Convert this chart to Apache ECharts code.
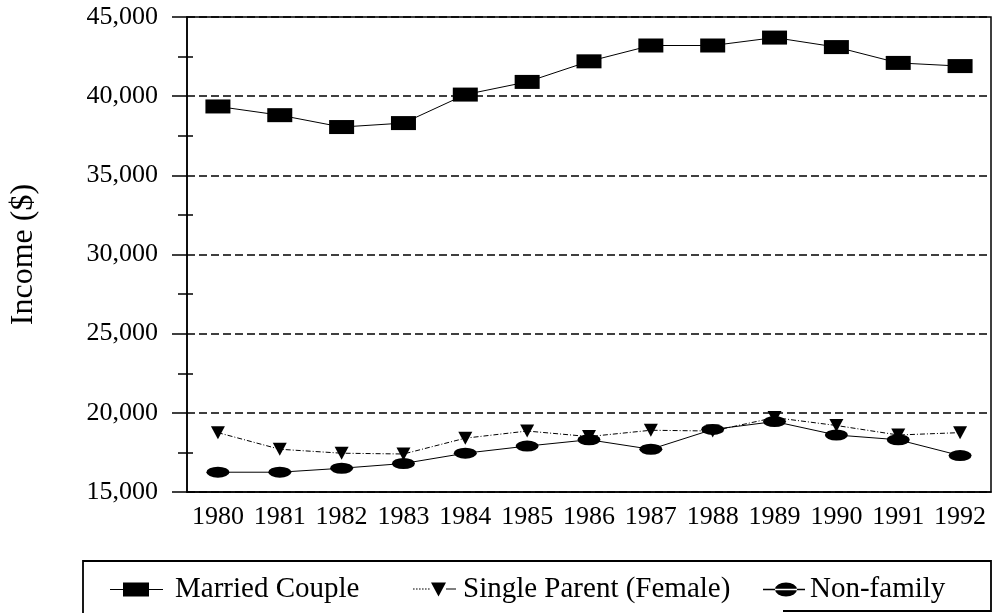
<!DOCTYPE html>
<html><head><meta charset="utf-8">
<script src="https://cdn.jsdelivr.net/npm/echarts@6/dist/echarts.min.js"></script>
<style>html,body{margin:0;padding:0;background:#fff}#c{width:996px;height:613px}</style>
</head><body><div id="c"></div>
<script>
const years = ['1980','1981','1982','1983','1984','1985','1986','1987','1988','1989','1990','1991','1992'];
const marriedCouple = [39350, 38800, 38050, 38300, 40100, 40900, 42200, 43200, 43200, 43700, 43100, 42100, 41900];
const singleParent = [18750, 17700, 17450, 17400, 18400, 18850, 18500, 18900, 18850, 19700, 19200, 18600, 18750];
const nonFamily = [16250, 16250, 16500, 16800, 17450, 17900, 18300, 17700, 18950, 19450, 18600, 18300, 17300];
const yTicks = {min: 15000, max: 45000, interval: 5000};

const FONT = 'Liberation Serif';
const ellipse = 'path://M0,5 A11,5 0 1,0 22,5 A11,5 0 1,0 0,5 Z';
// legend icons (line + marker), drawn as filled paths sized to the legend item box
const iconMarried = 'path://M0,6.5 H13 V0 H39 V6.5 H53 V7.5 H39 V14 H13 V7.5 H0 Z';
const iconSingle = 'path://M0,6.6 h1.6 v1 h-1.6 Z M3,6.6 h1.6 v1 h-1.6 Z M6,6.6 h1.6 v1 h-1.6 Z M9,6.6 h1.6 v1 h-1.6 Z M12,6.6 h1.6 v1 h-1.6 Z M15,6.6 h1.6 v1 h-1.6 Z M18,1 H33 L25.5,14 Z M33,6.6 H43 V7.6 H33 Z';
const iconNon = 'path://M0,6.5 H42 V7.5 H0 Z M12,7 A11,5 0 1,0 34,7 A11,5 0 1,0 12,7 Z';

const chart = echarts.init(document.getElementById('c'), null, {renderer: 'canvas'});
const legendText = {fontFamily: FONT, fontSize: 29, color: '#000'};
function legendAt(left, width, pad, name, icon) {
  return {
    left: left, top: 575, itemWidth: width, itemHeight: 14, itemGap: 0, padding: 0,
    selectedMode: false, symbolKeepAspect: false,
    textStyle: Object.assign({}, legendText, {padding: [0, 0, 0, pad]}),
    data: [{name: name, icon: icon, itemStyle: {color: '#000', borderWidth: 0}}]
  };
}
chart.setOption({
  animation: false,
  backgroundColor: '#fff',
  grid: {left: 185, right: 5, top: 17, bottom: 121, show: true, borderColor: '#000', borderWidth: 1.5},
  graphic: [{type: 'polyline', shape: {points: [[83, 613], [83, 561], [991, 561], [991, 611], [783, 611]]},
    style: {fill: 'none', stroke: '#000', lineWidth: 1.8}, z: 10}],
  legend: [
    legendAt(110, 53, 7, 'Married Couple', iconMarried),
    legendAt(413, 43, 2, 'Single Parent (Female)', iconSingle),
    legendAt(763, 42, 0, 'Non-family', iconNon)
  ],
  xAxis: [{
    type: 'category', data: years, boundaryGap: true,
    axisLine: {lineStyle: {color: '#000', width: 1.5}},
    axisTick: {alignWithLabel: true, length: 12, lineStyle: {color: '#000', width: 1.5}},
    axisLabel: {fontFamily: FONT, fontSize: 26, color: '#000', margin: 12, interval: 0}
  }, {
    type: 'category', data: years, boundaryGap: true, position: 'bottom',
    axisLine: {show: false},
    axisTick: {alignWithLabel: true, inside: true, length: 9, lineStyle: {color: '#000', width: 1.5}},
    axisLabel: {show: false}
  }],
  yAxis: [{
    type: 'value', min: yTicks.min, max: yTicks.max, interval: yTicks.interval,
    name: 'Income ($)', nameLocation: 'middle', nameGap: 147, nameRotate: 90,
    nameTextStyle: {fontFamily: FONT, fontSize: 32, color: '#000'},
    axisLine: {show: true, lineStyle: {color: '#000', width: 1.5}},
    axisTick: {show: true, length: 15, lineStyle: {color: '#000', width: 1.5}},
    minorTick: {show: true, splitNumber: 2, length: 9, lineStyle: {color: '#000', width: 1.5}},
    axisLabel: {fontFamily: FONT, fontSize: 26, color: '#000', margin: 29,
      formatter: v => v.toLocaleString('en-US')},
    splitLine: {show: true, lineStyle: {color: '#000', width: 1.5, type: [8, 4]}}
  }, {
    type: 'value', min: yTicks.min, max: yTicks.max, interval: yTicks.interval, position: 'left',
    axisLine: {show: false},
    axisTick: {show: false, inside: true},
    minorTick: {show: true, splitNumber: 2, length: 6, lineStyle: {color: '#000', width: 1.5}},
    axisLabel: {show: false}, splitLine: {show: false}
  }],
  series: [{
    name: 'Married Couple', type: 'line', data: marriedCouple,
    symbol: 'rect', symbolSize: [25, 14],
    itemStyle: {color: '#000'}, lineStyle: {color: '#000', width: 1}
  }, {
    name: 'Single Parent (Female)', type: 'line', data: singleParent,
    symbol: 'triangle', symbolRotate: 180, symbolSize: [14, 13],
    itemStyle: {color: '#000'}, lineStyle: {color: '#000', width: 1, type: [5, 2, 1, 2]}
  }, {
    name: 'Non-family', type: 'line', data: nonFamily,
    symbol: ellipse, symbolSize: [23, 11],
    itemStyle: {color: '#000'}, lineStyle: {color: '#000', width: 1}
  }]
});
</script></body></html>
